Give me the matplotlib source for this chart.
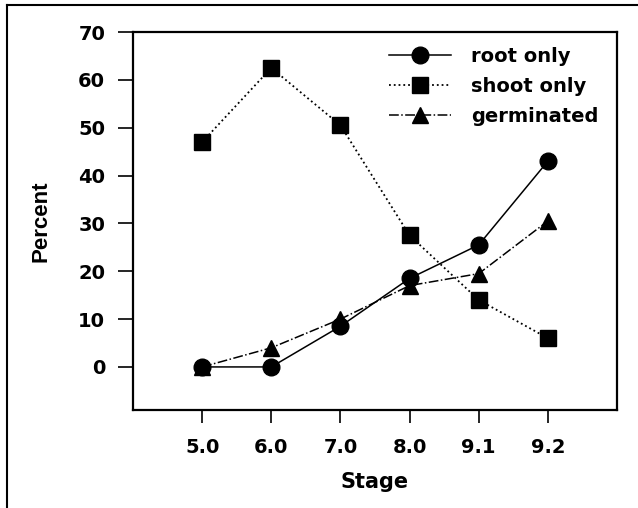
import matplotlib.pyplot as plt
from matplotlib.lines import Line2D

# data
stages = ['5.0', '6.0', '7.0', '8.0', '9.1', '9.2']
root_only = [0, 0, 8.5, 18.5, 25.5, 43]
shoot_only = [47, 62.5, 50.5, 27.5, 14, 6]
germinated = [0, 4, 10, 17, 19.5, 30.5]

plt.rcParams['font.family'] = ['DejaVu Sans']

fig = plt.figure(figsize=(6.38, 5.08), dpi=100)
ax = fig.add_axes([133/638, 1-410/508, (617-133)/638, (410-32)/508])

x = range(1, len(stages)+1)
ax.plot(x, root_only, color='k', linestyle='-', linewidth=1.1,
        marker='o', markersize=12, label='root only')
ax.plot(x, shoot_only, color='k', linestyle=':', linewidth=1.3,
        marker='s', markersize=11, label='shoot only')
ax.plot(x, germinated, color='k', linestyle='-.', linewidth=1.1,
        marker='^', markersize=12, label='germinated')

ax.set_xlim(0, 7)
ax.set_ylim(-9, 70)
ax.set_xticks(list(x))
ax.set_xticklabels(stages)
ax.set_yticks(range(0, 71, 10))

for s in ax.spines.values():
    s.set_linewidth(1.6)
ax.tick_params(axis='both', direction='out', width=1.2, labelsize=14)
ax.tick_params(axis='y', length=11, pad=9)
ax.tick_params(axis='x', length=9, pad=11)
for lab in ax.get_xticklabels() + ax.get_yticklabels():
    lab.set_fontweight('bold')

ax.set_xlabel('Stage', fontsize=15, fontweight='bold', labelpad=11)
ax.set_ylabel('Percent', fontsize=16, fontweight='bold', labelpad=19,
              family=['Liberation Sans Narrow', 'Liberation Sans', 'DejaVu Sans'])

ax.legend(loc='upper right', frameon=False, handlelength=3.2,
          handletextpad=1.0, prop={'size': 14, 'weight': 'bold'},
          borderpad=0, borderaxespad=0, labelspacing=0.56,
          bbox_to_anchor=((598-133)/484, (410-47)/378))

# outer frame (top and left edges visible in the scan)
fig.add_artist(Line2D([7/638, 1], [1-5/508, 1-5/508], color='k', linewidth=1.5))
fig.add_artist(Line2D([7/638, 7/638], [0, 1-5/508], color='k', linewidth=1.5))

plt.savefig('out.png', dpi=100)
